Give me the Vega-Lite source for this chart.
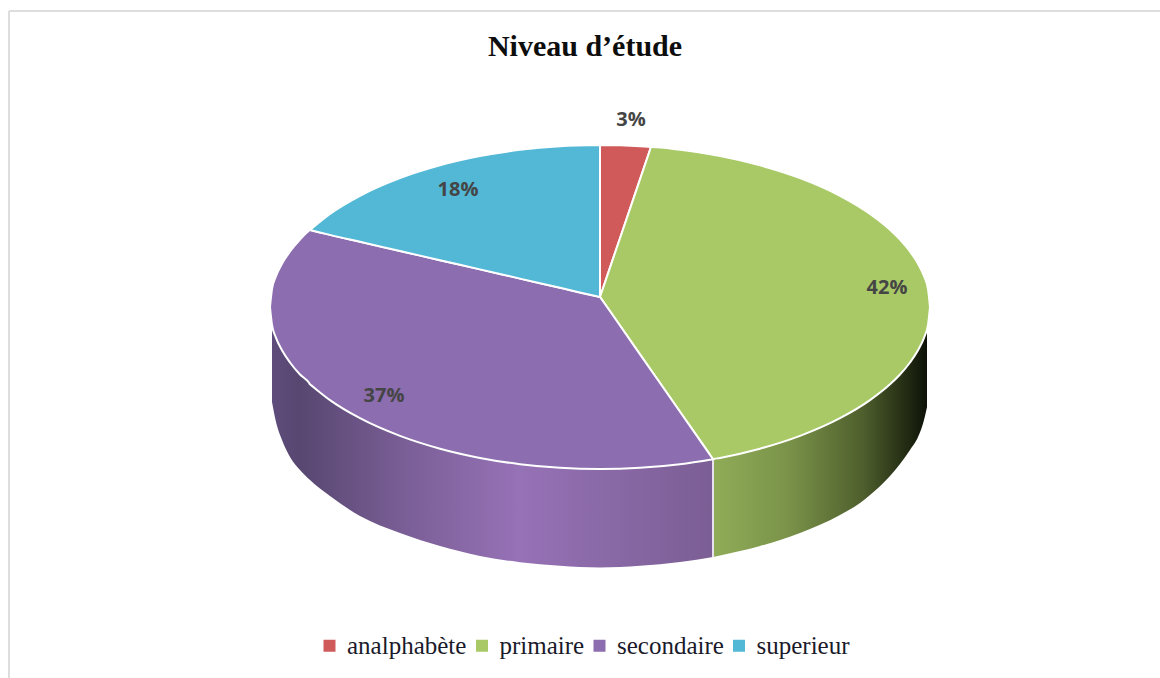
{
"$schema":"https://vega.github.io/schema/vega-lite/v6.json",
"width":1160,"height":678,"padding":0,"autosize":{"type":"none"},
"background":"white",
"title":{"text":"Niveau d’étude","font":"Liberation Serif","fontSize":30,"fontWeight":"bold","color":"#0d0d0d","anchor":"middle","dx":5,"dy":62,"offset":0},
"config":{"view":{"stroke":null}},
"datasets":{
"slices":[
{"niveau":"analphabète","x":600,"top":145,"bottom":297},
{"niveau":"analphabète","x":620,"top":145.3,"bottom":238.2},
{"niveau":"analphabète","x":640,"top":146.2,"bottom":179.4},
{"niveau":"analphabète","x":651,"top":147,"bottom":147},
{"niveau":"primaire","x":600,"top":297,"bottom":297},
{"niveau":"primaire","x":620,"top":238.2,"bottom":325.7},
{"niveau":"primaire","x":640,"top":179.4,"bottom":354.4},
{"niveau":"primaire","x":650,"top":149.9,"bottom":368.8},
{"niveau":"primaire","x":651,"top":147,"bottom":370.2},
{"niveau":"primaire","x":652,"top":147,"bottom":371.6},
{"niveau":"primaire","x":680,"top":149.8,"bottom":411.8},
{"niveau":"primaire","x":712,"top":154.6,"bottom":457.7},
{"niveau":"primaire","x":713,"top":154.8,"bottom":459.2},
{"niveau":"primaire","x":714,"top":155,"bottom":459},
{"niveau":"primaire","x":720,"top":156.1,"bottom":457.9},
{"niveau":"primaire","x":760,"top":165.3,"bottom":448.7},
{"niveau":"primaire","x":800,"top":178.1,"bottom":435.9},
{"niveau":"primaire","x":840,"top":195.8,"bottom":418.2},
{"niveau":"primaire","x":870,"top":213.9,"bottom":400.1},
{"niveau":"primaire","x":890,"top":229.7,"bottom":384.3},
{"niveau":"primaire","x":900,"top":239.5,"bottom":374.5},
{"niveau":"primaire","x":910,"top":251.5,"bottom":362.5},
{"niveau":"primaire","x":918,"top":263.7,"bottom":350.3},
{"niveau":"primaire","x":924,"top":276.2,"bottom":337.8},
{"niveau":"primaire","x":928,"top":289.2,"bottom":324.8},
{"niveau":"primaire","x":930,"top":307,"bottom":307},
{"niveau":"secondaire","x":270,"top":307,"bottom":307},
{"niveau":"secondaire","x":272,"top":289.2,"bottom":324.8},
{"niveau":"secondaire","x":276,"top":276.2,"bottom":337.8},
{"niveau":"secondaire","x":282,"top":263.7,"bottom":350.3},
{"niveau":"secondaire","x":290,"top":251.5,"bottom":362.5},
{"niveau":"secondaire","x":300,"top":239.5,"bottom":374.5},
{"niveau":"secondaire","x":309,"top":230.6,"bottom":382.8},
{"niveau":"secondaire","x":310,"top":229.9,"bottom":384.3},
{"niveau":"secondaire","x":311,"top":230.2,"bottom":385.1},
{"niveau":"secondaire","x":330,"top":234.9,"bottom":400.1},
{"niveau":"secondaire","x":360,"top":241.8,"bottom":418.2},
{"niveau":"secondaire","x":400,"top":251,"bottom":435.9},
{"niveau":"secondaire","x":440,"top":260.2,"bottom":448.7},
{"niveau":"secondaire","x":480,"top":269.4,"bottom":457.9},
{"niveau":"secondaire","x":520,"top":278.6,"bottom":464.2},
{"niveau":"secondaire","x":560,"top":287.8,"bottom":467.8},
{"niveau":"secondaire","x":599,"top":296.8,"bottom":469},
{"niveau":"secondaire","x":600,"top":297,"bottom":469},
{"niveau":"secondaire","x":601,"top":298.4,"bottom":469},
{"niveau":"secondaire","x":640,"top":354.4,"bottom":467.8},
{"niveau":"secondaire","x":680,"top":411.8,"bottom":464.2},
{"niveau":"secondaire","x":713,"top":459.2,"bottom":459.2},
{"niveau":"superieur","x":310,"top":229.9,"bottom":229.9},
{"niveau":"superieur","x":330,"top":213.9,"bottom":234.9},
{"niveau":"superieur","x":360,"top":195.8,"bottom":241.8},
{"niveau":"superieur","x":400,"top":178.1,"bottom":251},
{"niveau":"superieur","x":440,"top":165.3,"bottom":260.2},
{"niveau":"superieur","x":480,"top":156.1,"bottom":269.4},
{"niveau":"superieur","x":520,"top":149.8,"bottom":278.6},
{"niveau":"superieur","x":560,"top":146.2,"bottom":287.8},
{"niveau":"superieur","x":600,"top":145,"bottom":297}
],
"walls":[
{"niveau":"secondaire","x":272,"top":324.8,"bottom":402},
{"niveau":"secondaire","x":276,"top":337.8,"bottom":422},
{"niveau":"secondaire","x":282,"top":350.3,"bottom":440},
{"niveau":"secondaire","x":290,"top":362.5,"bottom":457},
{"niveau":"secondaire","x":300,"top":374.5,"bottom":470},
{"niveau":"secondaire","x":310,"top":384.3,"bottom":480},
{"niveau":"secondaire","x":330,"top":400.1,"bottom":496},
{"niveau":"secondaire","x":360,"top":418.2,"bottom":516},
{"niveau":"secondaire","x":400,"top":435.9,"bottom":533},
{"niveau":"secondaire","x":440,"top":448.7,"bottom":546},
{"niveau":"secondaire","x":480,"top":457.9,"bottom":555.9},
{"niveau":"secondaire","x":520,"top":464.2,"bottom":562.2},
{"niveau":"secondaire","x":560,"top":467.8,"bottom":565.8},
{"niveau":"secondaire","x":600,"top":469,"bottom":567.5},
{"niveau":"secondaire","x":640,"top":467.8,"bottom":565.8},
{"niveau":"secondaire","x":680,"top":464.2,"bottom":562},
{"niveau":"secondaire","x":713,"top":459.2,"bottom":557},
{"niveau":"primaire","x":713,"top":459.2,"bottom":557},
{"niveau":"primaire","x":720,"top":457.9,"bottom":555.5},
{"niveau":"primaire","x":760,"top":448.7,"bottom":546},
{"niveau":"primaire","x":800,"top":435.9,"bottom":533},
{"niveau":"primaire","x":840,"top":418.2,"bottom":515},
{"niveau":"primaire","x":860,"top":406,"bottom":503},
{"niveau":"primaire","x":870,"top":400.1,"bottom":495},
{"niveau":"primaire","x":890,"top":384.3,"bottom":476},
{"niveau":"primaire","x":900,"top":374.5,"bottom":464},
{"niveau":"primaire","x":910,"top":362.5,"bottom":450},
{"niveau":"primaire","x":918,"top":350.3,"bottom":437},
{"niveau":"primaire","x":924,"top":337.8,"bottom":420},
{"niveau":"primaire","x":927,"top":328,"bottom":407}
],
"labels":[
{"label":"3%","x":631,"y":120},
{"label":"42%","x":887,"y":288},
{"label":"37%","x":384,"y":396},
{"label":"18%","x":458,"y":190}
],
"divider":[{"x":713,"top":459.2,"bottom":557}],
"frameTop":[{"x":9,"x2":1160,"y":11}],
"frameLeft":[{"x":9,"top":11,"bottom":678}]
},
"layer":[
{"data":{"name":"frameTop"},"mark":{"type":"rule","color":"#dddddd","strokeWidth":2},
"encoding":{"x":{"field":"x","type":"quantitative","scale":{"domain":[0,1160]},"axis":null},"x2":{"field":"x2"},"y":{"field":"y","type":"quantitative","scale":{"domain":[678,0]},"axis":null}}},
{"data":{"name":"frameLeft"},"mark":{"type":"rule","color":"#dddddd","strokeWidth":2},
"encoding":{"x":{"field":"x","type":"quantitative","scale":{"domain":[0,1160]},"axis":null},"y":{"field":"top","type":"quantitative","scale":{"domain":[678,0]},"axis":null},"y2":{"field":"bottom"}}},
{"data":{"name":"walls"},"transform":[{"filter":"datum.niveau === 'secondaire'"}],
"mark":{"type":"area","orient":"vertical","interpolate":"monotone","fill":{"gradient":"linear","x1":0,"x2":1,"y1":0,"y2":0,"stops":[{"offset":0,"color":"#5f4c7c"},{"offset":0.06,"color":"#574770"},{"offset":0.3,"color":"#7a5e96"},{"offset":0.56,"color":"#9672b6"},{"offset":1,"color":"#7b5e94"}]}},
"encoding":{"x":{"field":"x","type":"quantitative","scale":{"domain":[0,1160]},"axis":null},"y":{"field":"top","type":"quantitative","scale":{"domain":[678,0]},"axis":null},"y2":{"field":"bottom"}}},
{"data":{"name":"walls"},"transform":[{"filter":"datum.niveau === 'primaire'"}],
"mark":{"type":"area","orient":"vertical","interpolate":"monotone","fill":{"gradient":"linear","x1":0,"x2":1,"y1":0,"y2":0,"stops":[{"offset":0,"color":"#90ac58"},{"offset":0.35,"color":"#7a9349"},{"offset":0.7,"color":"#4f5f2d"},{"offset":0.9,"color":"#232c13"},{"offset":1,"color":"#0d1208"}]}},
"encoding":{"x":{"field":"x","type":"quantitative","scale":{"domain":[0,1160]},"axis":null},"y":{"field":"top","type":"quantitative","scale":{"domain":[678,0]},"axis":null},"y2":{"field":"bottom"}}},
{"data":{"name":"divider"},"mark":{"type":"rule","color":"#e8e0ee","strokeWidth":2},
"encoding":{"x":{"field":"x","type":"quantitative","scale":{"domain":[0,1160]},"axis":null},"y":{"field":"top","type":"quantitative","scale":{"domain":[678,0]},"axis":null},"y2":{"field":"bottom"}}},
{"data":{"name":"slices"},
"mark":{"type":"area","orient":"vertical","interpolate":"monotone","stroke":"white","strokeWidth":2,"opacity":1},
"encoding":{"x":{"field":"x","type":"quantitative","scale":{"domain":[0,1160]},"axis":null},"y":{"field":"top","type":"quantitative","scale":{"domain":[678,0]},"axis":null},"y2":{"field":"bottom"},
"fill":{"field":"niveau","type":"nominal","scale":{"domain":["analphabète","primaire","secondaire","superieur"],"range":["#d05a5a","#a8c966","#8c6daf","#53b8d6"]},
"legend":{"title":null,"orient":"none","legendX":317,"legendY":633,"direction":"horizontal","symbolType":"square","symbolSize":144,"symbolStrokeWidth":0,"symbolOpacity":1,"labelFont":"Liberation Serif","labelFontSize":25,"labelColor":"#1a1a2a","labelOffset":5,"columnPadding":2.5,"padding":0}}}},
{"data":{"name":"labels"},"mark":{"type":"text","font":"Open Sans","fontWeight":"bold","fontSize":20,"color":"#454545","align":"center","baseline":"middle"},
"encoding":{"x":{"field":"x","type":"quantitative","scale":{"domain":[0,1160]},"axis":null},"y":{"field":"y","type":"quantitative","scale":{"domain":[678,0]},"axis":null},"text":{"field":"label"}}}
]
}
